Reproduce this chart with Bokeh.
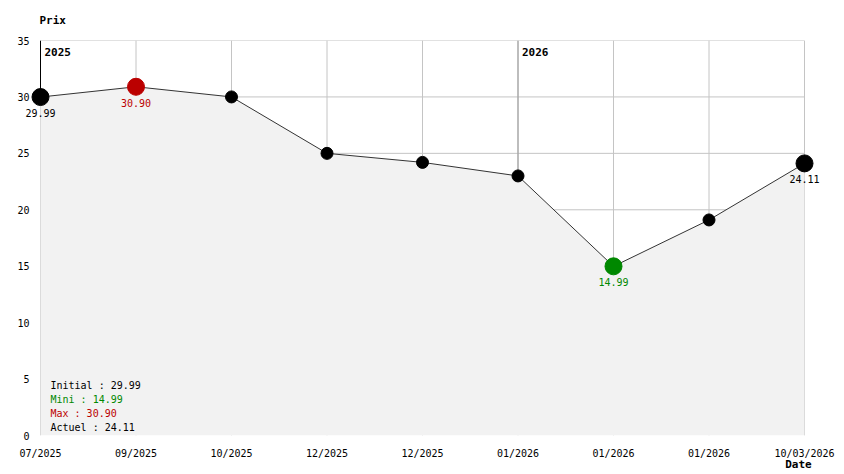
from bokeh.plotting import figure
from bokeh.models import Range1d, FixedTicker, Label, LinearAxis
from bokeh.core.properties import value
from bokeh.embed import file_html
from bokeh.resources import INLINE

# ---- data ----
tick_labels = ["07/2025", "09/2025", "10/2025", "12/2025", "12/2025",
               "01/2026", "01/2026", "01/2026", "10/03/2026"]
prices = [29.99, 30.90, 30.00, 25.00, 24.20, 23.00, 14.99, 19.10, 24.11]
y_ticks = [0, 5, 10, 15, 20, 25, 30, 35]
year_labels = ["2025", "2026"]
year_index = [0, 5]

FONT = "DejaVu Sans Mono"
n = len(prices)
xs = list(range(n))
ymax = y_ticks[-1]
PADPX = 18
frame_w, frame_h = 764 + 2 * PADPX, 395
unit = 764 / (n - 1)
pad = PADPX / unit
left_b = 40 - PADPX

p = figure(width=844, height=474, output_backend="svg", toolbar_location=None,
           x_range=Range1d(-pad, n - 1 + pad), y_range=Range1d(0, ymax),
           min_border_left=left_b, min_border_right=844 - left_b - frame_w,
           min_border_top=40, min_border_bottom=39)
p.outline_line_color = None
p.xgrid.visible = False
p.ygrid.visible = False
p.background_fill_color = "white"
p.border_fill_color = "white"

p.title.text = "Prix"
p.title.align = "left"
p.title.vertical_align = "top"
p.title.offset = 40 - left_b - 1
p.title.standoff = 24
p.title.text_font = FONT
p.title.text_font_style = "bold"
p.title.text_font_size = "11px"
p.title.text_color = "black"

# grid
hy = y_ticks[1:]
p.segment(x0=[0] * len(hy), y0=hy, x1=[n - 1] * len(hy), y1=hy,
          line_color="#c4c4c4", line_width=1)
p.segment(x0=xs, y0=[0] * n, x1=xs, y1=[ymax] * n,
          line_color="#c4c4c4", line_width=1)

# area
p.varea(x=xs, y1=[0] * n, y2=prices, fill_color="#f2f2f2")

# year marker lines
year_colors = ["black" if i == 0 else "#999999" for i in year_index]
p.segment(x0=year_index, y0=[prices[i] for i in year_index],
          x1=year_index, y1=[ymax] * len(year_index),
          line_color=year_colors, line_width=1)
p.text(x=year_index, y=[ymax] * len(year_index), text=year_labels,
       x_offset=4, y_offset=11, text_baseline="middle", text_align="left",
       text_font=value(FONT), text_font_style="bold", text_font_size="11px",
       text_color="black")

# line
p.line(xs, prices, line_color="#333333", line_width=1)

imin = prices.index(min(prices))
imax = prices.index(max(prices))
special = {0: "black", n - 1: "black", imin: "#008800", imax: "#bb0000"}
colors = [special.get(i, "black") for i in xs]
sizes = [17 if i in special else 12 for i in xs]
p.scatter(xs, prices, size=sizes, fill_color=colors, line_color=colors)

# point labels
for i in [0, imax, imin, n - 1]:
    p.add_layout(Label(x=i, y=prices[i], text=f"{prices[i]:.2f}",
                       text_color=special[i], y_offset=-12,
                       text_align="center", text_baseline="top",
                       text_font=FONT, text_font_size="10px"))

# summary block
summary = [f"Initial : {prices[0]:.2f}", f"Mini : {min(prices):.2f}",
           f"Max : {max(prices):.2f}", f"Actuel : {prices[-1]:.2f}"]
scol = ["black", "#008800", "#bb0000", "black"]
p.text(x=[0] * 4, y=[0] * 4, text=summary, text_color=scol,
       x_offset=10, y_offset=[-50, -36, -22, -8],
       text_baseline="middle", text_align="left",
       text_font=value(FONT), text_font_size="10px")

# axes
p.yaxis.ticker = FixedTicker(ticks=y_ticks)
p.yaxis.axis_line_color = None
p.yaxis.major_tick_line_color = None
p.yaxis.minor_tick_line_color = None
p.yaxis.major_label_standoff = -13
p.yaxis.major_label_text_font = FONT
p.yaxis.major_label_text_font_style = "normal"
p.yaxis.major_label_text_font_size = "10px"
p.yaxis.major_label_text_color = "black"

p.xaxis.ticker = FixedTicker(ticks=xs)
p.xaxis.major_label_overrides = {i: t for i, t in enumerate(tick_labels)}
p.xaxis.axis_line_color = None
p.xaxis.major_tick_line_color = None
p.xaxis.minor_tick_line_color = None
p.xaxis.major_label_standoff = 6
p.xaxis.major_label_text_font = FONT
p.xaxis.major_label_text_font_style = "normal"
p.xaxis.major_label_text_font_size = "10px"
p.xaxis.major_label_text_color = "black"

# "Date" label: extra axis below, shifted 6 px left of the last point
s = 6 / unit
p.extra_x_ranges = {"date": Range1d(-pad + s, n - 1 + pad + s)}
date_axis = LinearAxis(x_range_name="date", ticker=FixedTicker(ticks=[n - 1]),
                       major_label_overrides={n - 1: "Date"},
                       axis_line_color=None, major_tick_line_color=None,
                       minor_tick_line_color=None, major_label_standoff=-10,
                       major_label_text_font=FONT,
                       major_label_text_font_style="bold",
                       major_label_text_font_size="11px",
                       major_label_text_color="black")
p.add_layout(date_axis, "below")

open("out.html", "w").write(file_html(p, INLINE))
